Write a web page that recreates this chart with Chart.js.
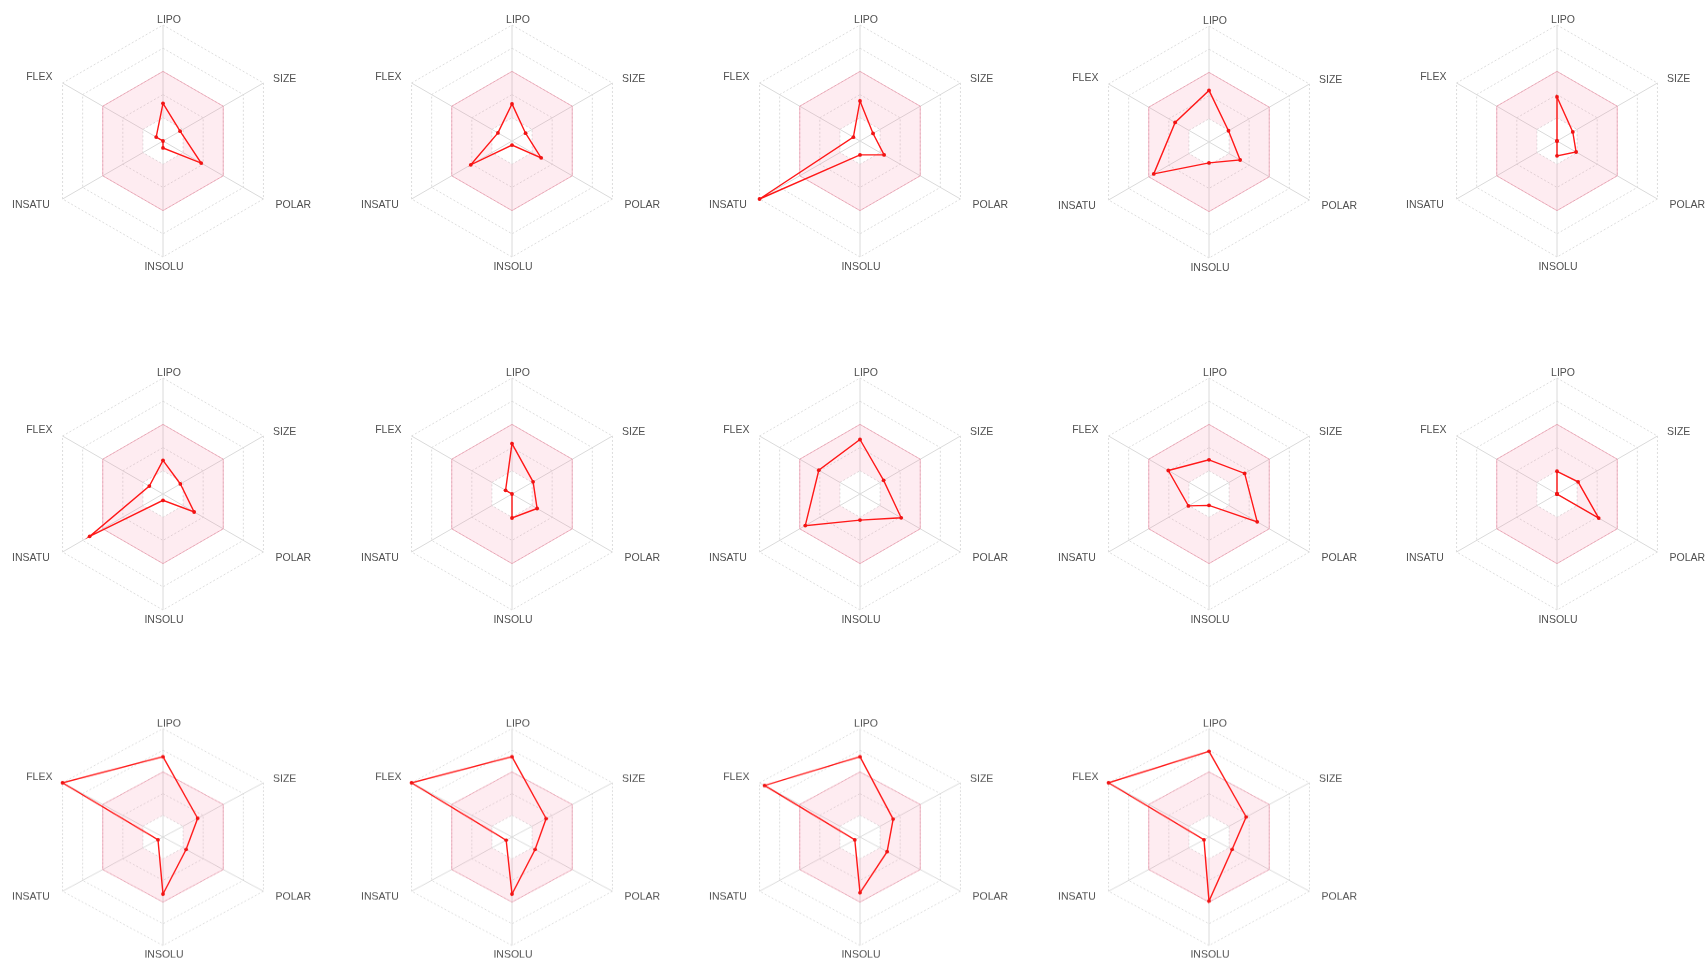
<!DOCTYPE html>
<html>
<head>
<meta charset="utf-8">
<script src="https://cdn.jsdelivr.net/npm/chart.js@4.4.1/dist/chart.umd.min.js"></script>
<style>
  html, body { margin: 0; padding: 0; background: #ffffff; overflow: hidden; width: 1706px; height: 961px; }
  #board { position: relative; width: 1706px; height: 961px; }
  #board canvas { position: absolute; }
</style>
</head>
<body>
<div id="board"></div>
<script>
// Six descriptors, clockwise from the top
const axisLabels = ['LIPO', 'SIZE', 'POLAR', 'INSOLU', 'INSATU', 'FLEX'];

// Normalised descriptor profiles (0 = centre, 1 = outer ring)
const mol01 = [0.325, 0.170, 0.380, 0.060, 0.000, 0.068];
const mol02 = [0.320, 0.135, 0.290, 0.035, 0.410, 0.140];
const mol03 = [0.345, 0.130, 0.240, 0.120, 1.000, 0.066];
const mol04 = [0.445, 0.194, 0.310, 0.180, 0.550, 0.337];
const mol05 = [0.380, 0.157, 0.190, 0.128, 0.000, 0.000];
const mol06 = [0.290, 0.173, 0.310, 0.055, 0.730, 0.136];
const mol07 = [0.435, 0.210, 0.250, 0.207, 0.000, 0.064];
const mol08 = [0.470, 0.235, 0.410, 0.225, 0.545, 0.410];
const mol09 = [0.295, 0.355, 0.480, 0.098, 0.205, 0.405];
const mol10 = [0.196, 0.210, 0.415, 0.000, 0.000, 0.000];
const mol11 = [0.740, 0.345, 0.230, 0.526, 0.050, 1.000];
const mol12 = [0.740, 0.340, 0.230, 0.526, 0.058, 1.000];
const mol13 = [0.740, 0.330, 0.270, 0.514, 0.052, 0.950];
const mol14 = [0.790, 0.370, 0.230, 0.590, 0.050, 1.000];

// Radial scale and the shaded optimal band
const scaleMin = 0;
const scaleMax = 1;
const ringStep = 0.2;
const bandInner = 0.2;
const bandOuter = 0.6;

const profiles = [mol01, mol02, mol03, mol04, mol05, mol06, mol07,
                  mol08, mol09, mol10, mol11, mol12, mol13, mol14];

// Panel centres on the page, row by row
const panelCentres = [
  [163, 141], [512, 141], [860, 141], [1209, 142], [1557, 141],
  [163, 494], [512, 494], [860, 494], [1209, 494], [1557, 494],
  [163, 837], [512, 837], [860, 837], [1209, 837]
];
const bottomRowSquash = 0.935;

const CANVAS_W = 340, CANVAS_H = 290, RADIUS = 116;
const padX = CANVAS_W / 2 - RADIUS, padY = CANVAS_H / 2 - RADIUS;

// Axis title placement relative to each outer vertex
const titleOffsets = [
  { dx: 6,     dy: -5,   align: 'center' },
  { dx: 9.5,   dy: -4.3, align: 'left' },
  { dx: 12,    dy: 5.7,  align: 'left' },
  { dx: 1,     dy: 10,   align: 'center' },
  { dx: -12.8, dy: 5.7,  align: 'right' },
  { dx: -10.1, dy: -6.3, align: 'right' }
];

const axisTitles = {
  id: 'axisTitles',
  afterDraw(chart) {
    const scale = chart.scales.r;
    const ctx = chart.ctx;
    ctx.save();
    ctx.font = '10.5px "Liberation Sans", Arial, sans-serif';
    ctx.fillStyle = '#505050';
    ctx.textBaseline = 'middle';
    chart.data.labels.forEach((txt, i) => {
      const p = scale.getPointPosition(i, scale.drawingArea);
      const o = titleOffsets[i];
      ctx.textAlign = o.align;
      ctx.fillText(txt, p.x + o.dx, p.y + o.dy);
    });
    ctx.restore();
  }
};

const board = document.getElementById('board');

profiles.forEach((values, idx) => {
  const [cx, cy] = panelCentres[idx];
  const canvas = document.createElement('canvas');
  canvas.width = CANVAS_W;
  canvas.height = CANVAS_H;
  canvas.style.width = CANVAS_W + 'px';
  canvas.style.height = CANVAS_H + 'px';
  canvas.style.left = (cx - CANVAS_W / 2) + 'px';
  canvas.style.top = (cy - CANVAS_H / 2) + 'px';
  if (idx >= 10) {
    canvas.style.transformOrigin = (CANVAS_W / 2) + 'px ' + (CANVAS_H / 2) + 'px';
    canvas.style.transform = 'scaleY(' + bottomRowSquash + ')';
  }
  board.appendChild(canvas);

  new Chart(canvas, {
    type: 'radar',
    data: {
      labels: axisLabels,
      datasets: [
        {
          data: values,
          borderColor: 'rgb(255, 24, 24)',
          borderWidth: 1.4,
          backgroundColor: 'rgba(0,0,0,0)',
          fill: false,
          pointRadius: 1.9,
          pointBorderWidth: 0,
          pointBackgroundColor: 'rgb(240, 20, 20)',
          tension: 0
        },
        {
          data: axisLabels.map(() => bandOuter),
          borderColor: 'rgba(236, 120, 145, 0.5)',
          borderWidth: 1,
          backgroundColor: 'rgba(247, 112, 150, 0.13)',
          fill: '+1',
          pointRadius: 0
        },
        {
          data: axisLabels.map(() => bandInner),
          borderColor: 'rgba(0,0,0,0)',
          borderWidth: 0,
          backgroundColor: 'rgba(0,0,0,0)',
          fill: false,
          pointRadius: 0
        }
      ]
    },
    options: {
      responsive: false,
      animation: false,
      devicePixelRatio: 1,
      layout: { padding: { left: padX, right: padX, top: padY, bottom: padY } },
      plugins: { legend: { display: false }, tooltip: { enabled: false } },
      scales: {
        r: {
          min: scaleMin,
          max: scaleMax,
          ticks: { display: false, stepSize: ringStep },
          grid: { color: '#d4d4d4', lineWidth: 0.8, circular: false },
          border: { dash: [2, 2] },
          angleLines: { color: '#dadada', lineWidth: 1 },
          pointLabels: { display: false }
        }
      }
    },
    plugins: [axisTitles]
  });
});
</script>
</body>
</html>
